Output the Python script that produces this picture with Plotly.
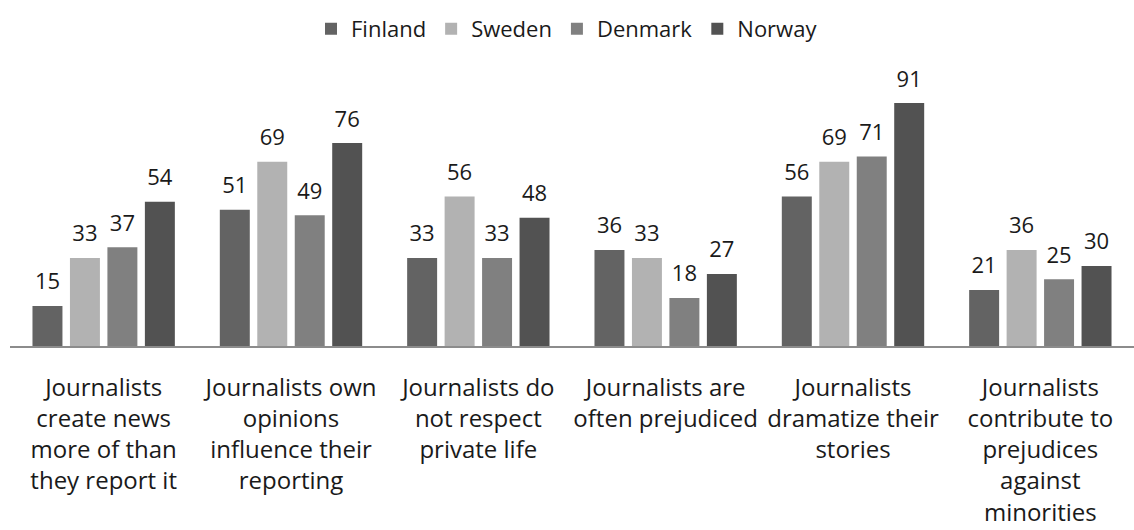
import plotly.graph_objects as go

categories = [
    "Journalists<br>create news<br>more of than<br>they report it",
    "Journalists own<br>opinions<br>influence their<br>reporting",
    "Journalists do<br>not respect<br>private life",
    "Journalists are<br>often prejudiced",
    "Journalists<br>dramatize their<br>stories",
    "Journalists<br>contribute to<br>prejudices<br>against<br>minorities",
]
finland = [15, 51, 33, 36, 56, 21]
sweden = [33, 69, 56, 33, 69, 36]
denmark = [37, 49, 33, 18, 71, 25]
norway = [54, 76, 48, 27, 91, 30]

series = [
    ("Finland", finland, "#636363"),
    ("Sweden", sweden, "#b2b2b2"),
    ("Denmark", denmark, "#808080"),
    ("Norway", norway, "#525252"),
]

FONT = "Open Sans, sans-serif"
FS = 22

fig = go.Figure()
for i, (name, vals, color) in enumerate(series):
    fig.add_trace(go.Bar(
        name=name, x=categories, y=vals,
        marker=dict(color=color, line=dict(width=0)),
        offsetgroup=str(i),
    ))
for i, (name, vals, color) in enumerate(series):
    fig.add_trace(go.Scatter(
        name=name, x=categories, y=vals, mode="markers+text",
        marker=dict(size=16, opacity=0, color=color),
        text=[str(v) for v in vals], textposition="top center",
        textfont=dict(size=FS, color="#1a1a1a", family=FONT),
        offsetgroup=str(i), showlegend=False, cliponaxis=False,
        hoverinfo="skip",
    ))

fig.update_layout(
    width=1134, height=530,
    margin=dict(l=10, r=0, t=79, b=184),
    barmode="group", bargap=0.2, bargroupgap=0.2,
    scattermode="group", scattergap=0.2,
    plot_bgcolor="white", paper_bgcolor="white",
    font=dict(family=FONT, size=FS, color="#1a1a1a"),
    legend=dict(orientation="h", x=0.5, xanchor="center", xref="container",
                y=0.985, yanchor="top", yref="container",
                font=dict(size=FS), itemwidth=30, traceorder="normal"),
    showlegend=True,
    xaxis=dict(showline=True, linecolor="#8c8c8c", linewidth=2, ticks="",
               ticklabelstandoff=19, tickfont=dict(size=24)),
    yaxis=dict(range=[0, 100], visible=False, showgrid=False),
)

fig.write_html("out.html")
